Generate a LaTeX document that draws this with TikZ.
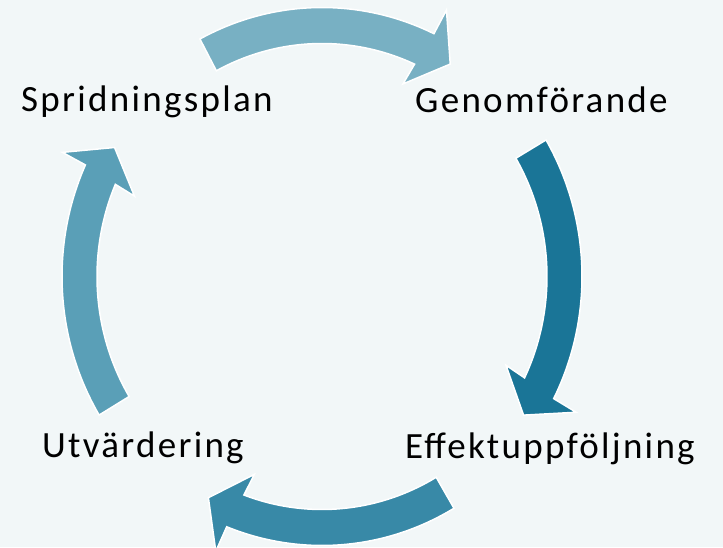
\documentclass[tikz,border=0pt]{standalone}
\usepackage{fontspec}
\setmainfont{Carlito}[LetterSpace=6.2]
\usepackage{tikz}
\usetikzlibrary{calc}
\usepackage{xcolor}

\definecolor{bgcol}{RGB}{242,247,248}
\definecolor{pilA}{RGB}{120,176,195}
\definecolor{pilB}{RGB}{26,117,151}
\definecolor{pilC}{RGB}{56,137,167}
\definecolor{pilD}{RGB}{90,159,183}

\newcommand{\cx}{322}
\newcommand{\cy}{270.5}
\newcommand{\cyclearrow}[4]{%
  \filldraw[cykelpil, fill=#1]
    ({\cx+260*cos(#2)},{\cy+269*sin(#2)})
      arc[start angle=#2, end angle=#3, x radius=260pt, y radius=269pt]
    -- ({\cx+286*cos(#3-0.3)},{\cy+296*sin(#3-0.3)})
    -- ({\cx+242*cos(#4)},{\cy+250.5*sin(#4)})
    -- ({\cx+203*cos(#3+2)},{\cy+210*sin(#3+2)})
    -- ({\cx+225*cos(#3+1.2)},{\cy+233*sin(#3+1.2)})
      arc[start angle=#3+1.2, end angle=#2, x radius=225pt, y radius=233pt]
    -- cycle;}

\tikzset{
  cykelpil/.style={draw=white, line width=1.5pt, line join=miter},
  steg/.style={font=\fontsize{37}{44}\selectfont, text=black, inner sep=0pt}
}

\begin{document}
\begin{tikzpicture}[x=1pt, y=1pt]
\fill[bgcol] (0,0) rectangle (723,547);
\useasboundingbox (0,0) rectangle (723,547);
\cyclearrow{pilA}{118}{64.5}{58}
\cyclearrow{pilB}{30.5}{-27}{-33.6}
\cyclearrow{pilC}{-59.5}{-111.5}{-118}
\cyclearrow{pilD}{211}{155.5}{149}
\node[steg, anchor=base west] (spridning) at (21,435) {Spridningsplan};
\node[steg, anchor=base west] (genomforande) at (415,434) {Genomförande};
\node[steg, anchor=base west] (utvardering) at (42,90) {Utvärdering};
\node[steg, anchor=base west] (effekt) at (405,88.5) {Effektuppföljning};
\end{tikzpicture}
\end{document}
